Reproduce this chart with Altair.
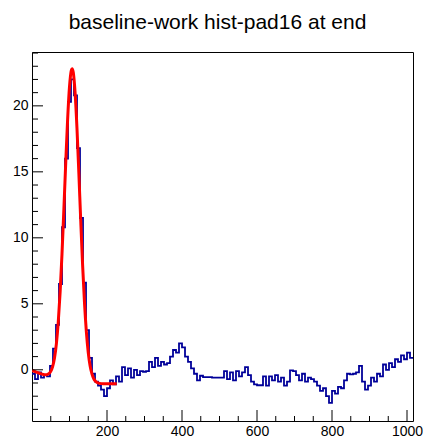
import altair as alt
import pandas as pd

# Histogram (bin width 8, low edges 0..1008)
bin_width = 8
hist_values = [
    -0.3, -0.7, -0.2, -0.6, -0.4, -0.5, 0.3, 1.6, 3.4, 6.5,
    10.8, 16.0, 20.3, 22.0, 20.8, 16.8, 11.5, 6.6, 3.0, 0.9,
    -0.3, -0.9, -1.2, -1.5, -2.0, -1.4, -0.8, -1.1, -0.5, -0.9,
    0.2, -0.4, 0.1, -0.6, 0.0, -0.4, -0.1, -0.15, -0.1, 0.6,
    0.2, 0.9, 0.3, 0.6, 0.4, 0.5, 1.0, 1.5, 1.3, 2.0,
    1.7, 1.0, 0.6, 0.1, -0.3, -0.8, -0.45, -0.55, -0.55, -0.55,
    -0.6, -0.6, -0.6, -0.6, -0.1, -0.7, -0.2, -0.8, -0.1, -0.5,
    -0.2, 0.2, -0.4, -0.9, -1.1, -1.17, -1.17, -0.5, -1.2, -0.5,
    -0.8, -0.4, -0.9, -0.6, -1.2, -0.9, -0.05, -0.1, -0.4, -0.8,
    -0.3, -0.9, -0.6, -0.7, -0.9, -1.2, -1.6, -1.4, -2.0, -2.5,
    -1.6, -1.8, -1.3, -1.4, -0.8, -0.3, -0.35, -0.3, -0.2, 0.3,
    -0.9, -1.5, -1.2, -0.6, -0.9, -0.3, -0.5, 0.4, 0.0, 0.5,
    0.2, 0.8, 0.6, 1.1, 0.8, 1.3, 0.9,
]

# Fit curve points
fit_x = [0, 10, 20, 30, 38, 45, 50, 55, 60, 65, 70, 75, 80, 85, 90, 95, 100,
         105, 107, 110, 115, 120, 125, 130, 135, 140, 145, 150, 155, 160, 165,
         170, 175, 180, 190, 200, 210, 220, 226]
fit_y = [-0.05, -0.16, -0.26, -0.35, -0.37, -0.29, -0.12, 0.24, 0.89, 1.97,
         3.62, 5.88, 8.78, 12.17, 15.72, 18.97, 21.45, 22.71, 22.82, 22.54,
         20.96, 18.26, 14.85, 11.27, 7.91, 5.07, 2.88, 1.31, 0.29, -0.33,
         -0.70, -0.89, -0.98, -1.03, -1.06, -1.06, -1.06, -1.05, -1.05]

title_text = "baseline-work hist-pad16 at end"
x_major = [200, 400, 600, 800, 1000]
x_minor = [50, 100, 150, 250, 300, 350, 450, 500, 550, 650, 700, 750, 850, 900, 950]
y_major = [0, 5, 10, 15, 20]
y_minor = [-3, -2, -1, 1, 2, 3, 4, 6, 7, 8, 9, 11, 12, 13, 14, 16, 17, 18, 19, 21, 22, 23, 24]

x_domain = [0, 1016]
y_domain = [-3.88, 24.08]

W, H = 381, 369

edges = [i * bin_width for i in range(len(hist_values))] + [len(hist_values) * bin_width]
hist_df = pd.DataFrame({"x": edges, "y": hist_values + [hist_values[-1]]})
fit_df = pd.DataFrame({"x": fit_x, "y": fit_y})

FONT = "Liberation Sans"

xs = alt.Scale(domain=x_domain, nice=False, zero=False)
ys = alt.Scale(domain=y_domain, nice=False, zero=False)
x_axis = alt.Axis(values=x_major, ticks=False, tickSize=0, domain=False, grid=False,
                  labelFont=FONT, labelFontSize=14, labelColor="black", format="d",
                  labelPadding=3, labelFlush=False, title=None)
y_axis = alt.Axis(values=y_major, ticks=False, tickSize=0, domain=False, grid=False,
                  labelFont=FONT, labelFontSize=14, labelColor="black", format="d",
                  labelPadding=4, labelFlush=False, title=None)


def X(f):
    return alt.X(f, scale=xs, axis=x_axis, title=None)


def Y(f):
    return alt.Y(f, scale=ys, axis=y_axis, title=None)


hist = alt.Chart(hist_df).mark_line(
    interpolate="step-after", color="#000099", strokeWidth=1.8, clip=True
).encode(x=X("x:Q"), y=Y("y:Q"))

fit = alt.Chart(fit_df).mark_line(
    color="#ff0000", strokeWidth=3, interpolate="monotone", clip=True
).encode(x=X("x:Q"), y=Y("y:Q"))

ymaj = alt.Chart(pd.DataFrame({"v": y_major})).mark_rule(color="black", strokeWidth=1).encode(
    y=Y("v:Q"), x=alt.value(0), x2=alt.value(11))
ymin = alt.Chart(pd.DataFrame({"v": y_minor})).mark_rule(color="black", strokeWidth=1).encode(
    y=Y("v:Q"), x=alt.value(0), x2=alt.value(6))
xmaj = alt.Chart(pd.DataFrame({"v": x_major})).mark_rule(color="black", strokeWidth=1).encode(
    x=X("v:Q"), y=alt.value(H), y2=alt.value(H - 11))
xmin = alt.Chart(pd.DataFrame({"v": x_minor})).mark_rule(color="black", strokeWidth=1).encode(
    x=X("v:Q"), y=alt.value(H), y2=alt.value(H - 5))

title = alt.Chart(pd.DataFrame({"t": [title_text]})).mark_text(
    font=FONT, fontSize=21, color="black", align="center", baseline="alphabetic"
).encode(text="t:N", x=alt.value(W / 2 - 5), y=alt.value(-23.5))

chart = alt.layer(hist, fit, ymaj, ymin, xmaj, xmin, title).properties(
    width=W, height=H,
    autosize=alt.AutoSizeParams(type="none"),
    padding={"left": 32, "top": 52, "right": 10, "bottom": 19},
    background="white",
).configure_view(stroke="black", strokeWidth=1)

chart.save("out.html", embed_options={"renderer": "svg", "actions": False})
